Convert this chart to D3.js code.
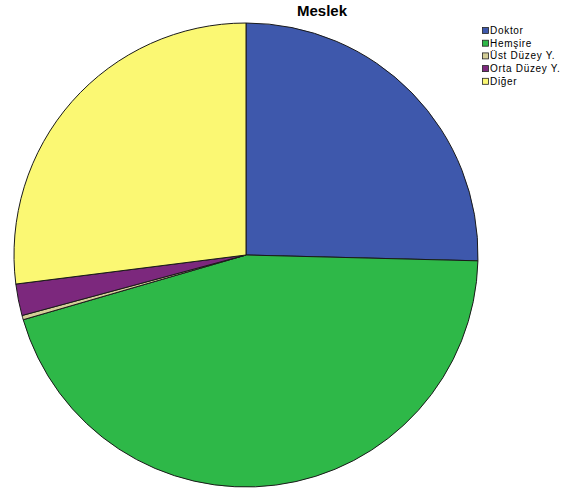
<!DOCTYPE html>
<html>
<head>
<meta charset="utf-8">
<script src="https://cdn.jsdelivr.net/npm/d3@7"></script>
<style>
  html, body { margin: 0; padding: 0; background: #fff; }
  svg { display: block; }
</style>
</head>
<body>
<svg id="chart" width="568" height="496"></svg>
<script>
const title = "Meslek";
const categories = ["Doktor", "Hemşire", "Üst Düzey Y.", "Orta Düzey Y.", "Diğer"];
const values = [25.4, 45.1, 0.3, 2.2, 27.0];
const colors = ["#3E58AC", "#2EB848", "#D3CE97", "#7C287D", "#FBF873"];

const svg = d3.select("#chart");
const cx = 246, cy = 255, r = 232;

const pie = d3.pie().sort(null).value(d => d.v);
const arcs = pie(categories.map((c, i) => ({ c, v: values[i] })));
const arc = d3.arc().innerRadius(0).outerRadius(r);
const color = d3.scaleOrdinal().domain(categories).range(colors);

svg.append("g").attr("transform", `translate(${cx},${cy})`)
  .selectAll("path").data(arcs).join("path")
  .attr("d", arc)
  .attr("fill", d => color(d.data.c))
  .attr("stroke", "#1a1a1a")
  .attr("stroke-width", 1)
  .attr("stroke-linejoin", "round");

svg.append("text")
  .attr("x", 322).attr("y", 15.5)
  .attr("text-anchor", "middle")
  .attr("font-family", "Liberation Sans, Arial, sans-serif")
  .attr("font-weight", "bold")
  .attr("font-size", 15)
  .text(title);

const legend = svg.append("g").attr("transform", "translate(482,27)");
const rows = legend.selectAll("g").data(categories).join("g")
  .attr("transform", (d, i) => `translate(0,${i * 12.7})`);
rows.append("rect")
  .attr("x", 0.5).attr("y", 0.5).attr("width", 6).attr("height", 6)
  .attr("fill", d => color(d))
  .attr("stroke", "#222").attr("stroke-width", 0.8);
rows.append("text")
  .attr("x", 8).attr("y", 7)
  .attr("font-family", "Liberation Sans, Arial, sans-serif")
  .attr("font-size", 10)
  .attr("letter-spacing", 0.7)
  .attr("fill", "#000")
  .text(d => d);
</script>
</body>
</html>
